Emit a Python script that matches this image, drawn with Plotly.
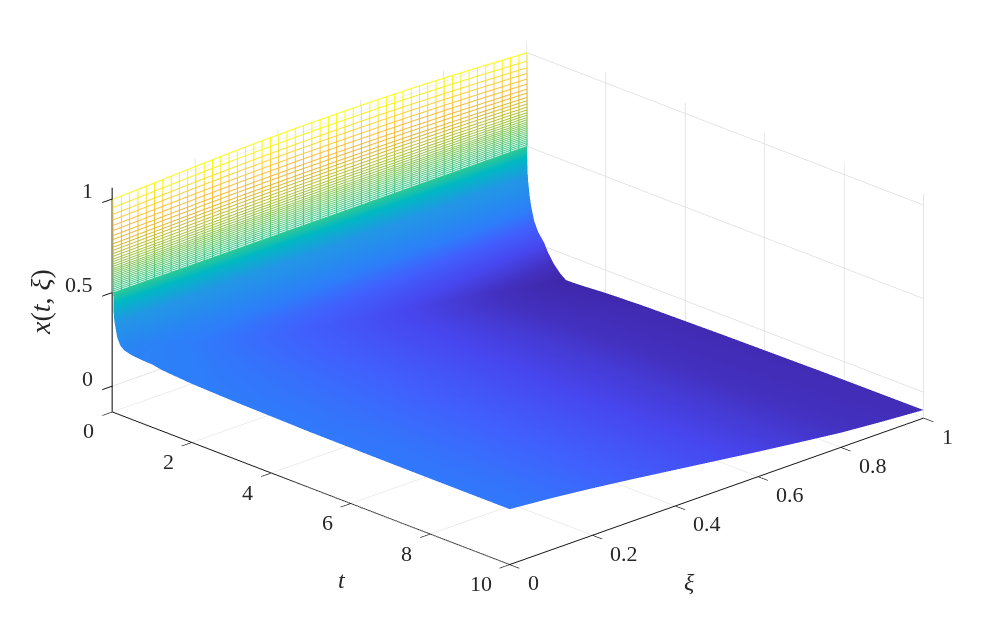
import plotly.graph_objects as go

# Values
t_values = [0.022, 0.024, 0.03, 0.05, 0.08, 0.12, 0.2, 0.3, 0.45, 0.55, 0.7, 0.85, 1, 1.25, 1.5, 2, 3, 5, 7.5, 10]
xi_values = [0, 0.1, 0.2, 0.3, 0.4, 0.5, 0.6, 0.7, 0.8, 0.9, 1]
x_values = [
    [.50, .50, .50, .50, .50, .50, .50, .50, .50, .50, .50],
    [.47, .47, .47, .47, .47, .47, .47, .47, .47, .465, .46],
    [.40, .40, .40, .40, .40, .395, .395, .39, .385, .38, .37],
    [.35, .35, .345, .34, .34, .335, .33, .33, .32, .32, .31],
    [.317, .31, .305, .30, .295, .29, .28, .275, .27, .26, .25],
    [.27, .265, .26, .25, .245, .24, .23, .22, .21, .2, .19],
    [.232, .22, .21, .20, .19, .18, .17, .155, .145, .13, .115],
    [.215, .20, .185, .17, .155, .14, .125, .11, .095, .08, .065],
    [.206, .187, .168, .148, .128, .108, .09, .072, .055, .037, .02],
    [.203, .18, .158, .135, .113, .09, .07, .05, .03, .005, -.025],
    [.20, .175, .15, .125, .10, .075, .05, .025, 0, -.03, -.075],
    [.198, .172, .145, .118, .09, .062, .033, .002, -.03, -.07, -.11],
    [.197, .17, .14, .11, .08, .05, .015, -.02, -.055, -.098, -.135],
    [.187, .165, .137, .107, .077, .044, .01, -.025, -.062, -.1, -.133],
    [.183, .162, .135, .105, .075, .04, .005, -.03, -.066, -.10, -.13],
    [.175, .155, .13, .10, .07, .035, .005, -.03, -.065, -.098, -.122],
    [.168, .148, .125, .097, .066, .033, 0, -.03, -.063, -.09, -.113],
    [.16, .142, .118, .09, .06, .028, -.005, -.03, -.062, -.087, -.105],
    [.158, .14, .115, .088, .058, .026, -.005, -.032, -.062, -.084, -.098],
    [.158, .138, .113, .085, .055, .025, -.005, -.033, -.060, -.079, -.095],
]
wire_levels = [1, .956, .92, .89, .86, .833, .806, .785, .762, .744, .727, .71, .695, .68, .667, .654, .642,
               .63, .62, .61, .60, .59, .58, .57, .56, .55, .54, .53, .52, .51, .50]
wire_weight = [1, .91, .84, .78, .72, .67, .61, .57, .52, .49, .45, .42, .39, .36, .33, .31, .28,
               .26, .24, .22, .20, .18, .16, .14, .12, .10, .08, .06, .04, .02, 0]
wire_xi = [0, .02, .04, .06, .08, .10, .12, .14, .16, .18, .20, .22, .24, .26, .28, .30, .32, .34, .36, .38,
           .40, .42, .44, .46, .48, .50, .52, .54, .56, .58, .60, .62, .64, .66, .68, .70, .72, .74, .76, .78,
           .80, .82, .84, .86, .88, .90, .92, .94, .96, .98, 1]
wire_bulge = [0, .002, .004, .006, .008, .010, .012, .014, .016, .018, .020, .022, .023, .025, .026, .028, .029,
              .030, .031, .032, .032, .033, .034, .034, .034, .034, .034, .034, .034, .033, .033, .032, .032,
              .031, .030, .029, .028, .026, .025, .023, .022, .020, .018, .016, .014, .012, .009, .007, .005,
              .002, 0]
wire_t = 0.02

t_ticks = [0, 2, 4, 6, 8, 10]
xi_ticks = [0, 0.2, 0.4, 0.6, 0.8, 1]
z_ticks = [0, 0.5, 1]
t_labels = ["0", "2", "4", "6", "8", "10"]
xi_labels = ["0", "0.2", "0.4", "0.6", "0.8", "1"]
z_labels = ["0", "0.5", "1"]
z_bottom, z_top = -0.138, 1.059

parula = [[0, "rgb(62,38,168)"], [.06, "rgb(67,48,190)"], [.13, "rgb(71,70,238)"], [.2, "rgb(65,95,253)"],
          [.27, "rgb(46,125,250)"], [.35, "rgb(38,140,238)"], [.42, "rgb(35,150,230)"], [.51, "rgb(0,185,195)"],
          [.56, "rgb(45,200,150)"], [.65, "rgb(120,200,100)"], [.72, "rgb(170,195,60)"], [.8, "rgb(230,185,50)"],
          [.87, "rgb(253,190,60)"], [.93, "rgb(250,215,50)"], [1, "rgb(249,251,20)"]]
cmin, cmax = -0.14, 1.0
flat = dict(ambient=1, diffuse=0, specular=0, roughness=1, fresnel=0)
eye_len = 2.0
zoom = 1.9 * 604 / 590

fig = go.Figure()
# white faces of the mesh behind the wires
top_z = [1 + b for b in wire_bulge]
fig.add_trace(go.Surface(x=[[0] * len(wire_xi), [0] * len(wire_xi)], y=[wire_xi, wire_xi],
                         z=[top_z, [.5] * len(wire_xi)],
                         surfacecolor=[[0] * len(wire_xi), [0] * len(wire_xi)],
                         colorscale=[[0, "white"], [1, "white"]],
                         showscale=False, lighting=flat, hoverinfo="skip"))
fig.add_trace(go.Surface(x=t_values, y=xi_values, z=[list(c) for c in zip(*x_values)],
                         colorscale=parula, cmin=cmin, cmax=cmax, showscale=False, lighting=flat))
wx, wy, wz = [], [], []
for lev, w in zip(wire_levels, wire_weight):
    for xi, b in zip(wire_xi, wire_bulge):
        wx.append(wire_t); wy.append(xi); wz.append(lev + b * w)
    wx.append(None); wy.append(None); wz.append(None)
for xi, b in zip(wire_xi, wire_bulge):
    for lev, w in zip(wire_levels, wire_weight):
        wx.append(wire_t); wy.append(xi); wz.append(lev + b * w)
    wx.append(None); wy.append(None); wz.append(None)
fig.add_trace(go.Scatter3d(x=wx, y=wy, z=wz, mode="lines", hoverinfo="skip", showlegend=False,
                           line=dict(width=2, color=[v if v is not None else 0 for v in wz],
                                     colorscale=parula, cmin=cmin, cmax=cmax)))

axis = dict(showbackground=False, gridcolor="#dcdcdc", gridwidth=1.5, zeroline=False, showline=True,
            linecolor="#111111", linewidth=2, ticks="outside", ticklen=14, tickcolor="#111111", tickwidth=2,
            showticklabels=False, title=dict(text=""), showspikes=False)
tick_font = dict(family="Liberation Serif", size=22, color="#262626")
scene_notes = []
for v, s in zip(t_ticks, t_labels):
    scene_notes.append(dict(x=v, y=0, z=z_bottom, text=s, showarrow=False, font=tick_font,
                            xanchor="right", yanchor="middle", xshift=-16, yshift=-19))
for v, s in zip(xi_ticks, xi_labels):
    scene_notes.append(dict(x=10, y=v, z=z_bottom, text=s, showarrow=False, font=tick_font,
                            xanchor="left", yanchor="middle", xshift=16, yshift=-18))
for v, s in zip(z_ticks, z_labels):
    scene_notes.append(dict(x=0, y=0, z=v, text=s, showarrow=False, font=tick_font,
                            xanchor="right", yanchor="middle", xshift=-17, yshift=8))
fig.update_layout(
    width=982, height=634, margin=dict(l=0, r=0, t=0, b=0), paper_bgcolor="white", showlegend=False,
    scene=dict(
        domain=dict(x=[38 / 982, 1], y=[44 / 634, 1]),
        xaxis=dict(axis, range=[0, 10], tickvals=t_ticks),
        yaxis=dict(axis, range=[0, 1], tickvals=xi_ticks),
        zaxis=dict(axis, range=[z_bottom, z_top], tickvals=z_ticks, linewidth=3),
        aspectmode="manual", aspectratio=dict(x=zoom, y=zoom, z=0.42 * zoom),
        camera=dict(projection=dict(type="orthographic"), center=dict(x=0, y=0, z=0),
                    eye=dict(x=.671 * eye_len, y=-.644 * eye_len, z=.369 * eye_len), up=dict(x=0, y=0, z=1)),
        annotations=scene_notes,
    ),
    annotations=[
        dict(text="<i>t</i>", x=334 / 982, y=1 - 572 / 634, xref="paper", yref="paper", showarrow=False,
             xanchor="center", yanchor="middle", font=dict(size=24)),
        dict(text="<i>ξ</i>", x=681 / 982, y=1 - 574 / 634, xref="paper", yref="paper", showarrow=False,
             xanchor="center", yanchor="middle", font=dict(size=24)),
        dict(text="<i>x</i>(<i>t</i>, <i>ξ</i>)", x=32 / 982, y=1 - 294 / 634, xref="paper", yref="paper",
             showarrow=False, textangle=-90, xanchor="center", yanchor="middle", font=dict(size=28)),
    ],
    font=dict(family="Liberation Serif", size=24, color="#262626"),
)
fig.write_html("out.html")
